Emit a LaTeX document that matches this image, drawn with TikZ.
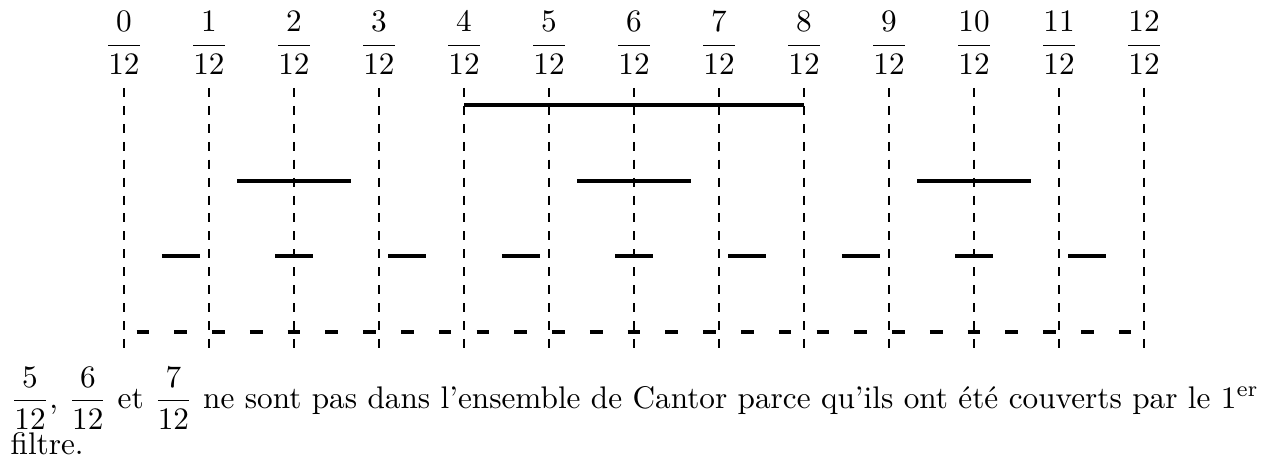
\documentclass[tikz,border=0pt]{standalone}
\usepackage{amsmath}
\newcommand{\myfs}{\fontsize{10}{12}\selectfont}
\begin{document}
\begin{tikzpicture}[x=1cm,y=1cm,
  vline/.style={dashed, line width=0.4pt},
  bar/.style={line width=1.3pt},
  lbl/.style={anchor=base, inner sep=0pt, font=\myfs, scale=1.046, transform shape},
  txt/.style={anchor=base west, inner sep=0pt, font=\myfs, scale=1.046, transform shape}]
\useasboundingbox (-1.4588,-1.4624) rectangle (13.4824,3.9024);
% vertical guides and labels
\foreach \i in {0,...,12} {
  \coordinate (t\i) at (\i,2.867);
  \coordinate (b\i) at (\i,-0.215);
  \draw[vline] (t\i) -- (b\i);
  \node[lbl] (l\i) at (\i,3.279) {$\dfrac{\i}{12}$};
}
% first filter
\coordinate (a1) at (4,8/3);
\coordinate (a2) at (8,8/3);
\draw[bar] (a1) -- (a2);
% second row
\foreach \c in {2,6,10} {
  \coordinate (s\c) at ({\c-2/3},16/9);
  \coordinate (e\c) at ({\c+2/3},16/9);
  \draw[bar] (s\c) -- (e\c);
}
% third row
\foreach \k in {0,...,8} {
  \coordinate (p\k) at ({(2*\k+1)*2/3-2/9},8/9);
  \coordinate (q\k) at ({(2*\k+1)*2/3+2/9},8/9);
  \draw[bar] (p\k) -- (q\k);
}
% fourth row
\foreach \k in {0,...,26} {
  \coordinate (u\k) at ({(2*\k+1)*2/9-2/27},0);
  \coordinate (v\k) at ({(2*\k+1)*2/9+2/27},0);
  \draw[bar] (u\k) -- (v\k);
}
% text
\node[txt] (line1) at (-1.341,-0.901) {$\dfrac{5}{12}$, $\dfrac{6}{12}$ et $\dfrac{7}{12}$ ne sont pas dans l'ensemble de Cantor parce qu'ils ont été couverts par le 1\textsuperscript{er}};
\node[txt] (line2) at (-1.341,-1.442) {filtre.};
\end{tikzpicture}
\end{document}
